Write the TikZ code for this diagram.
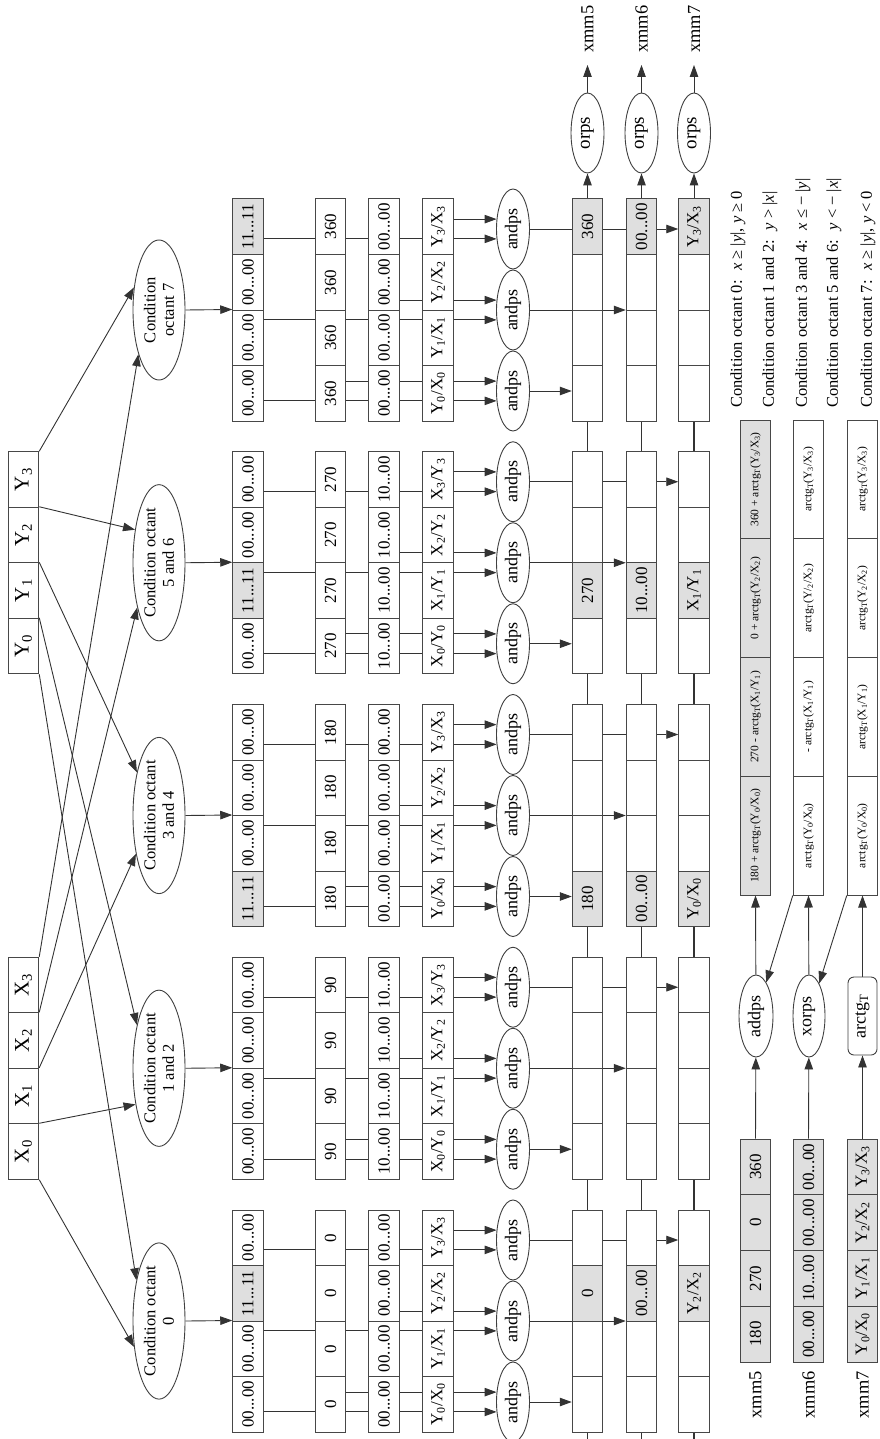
\documentclass[tikz,border=0pt]{standalone}
\usepackage{fontspec}
\setmainfont{Liberation Serif}
\usetikzlibrary{shapes.geometric,arrows.meta,backgrounds}
\newcommand\Zm{00...00}
\newcommand\Tm{10...00}
\newcommand\Om{11...11}
\newcommand\myF{\fontsize{17}{20}\selectfont}
\newcommand\myE{\fontsize{18}{21}\selectfont}
\newcommand\myX{\fontsize{21}{25}\selectfont}
\newcommand\myC{\fontsize{16.5}{18.5}\selectfont}
\newcommand\myO{\fontsize{19}{22}\selectfont}
\newcommand\myM{\fontsize{18.4}{22}\selectfont}
\newcommand\myL{\fontsize{16.5}{19}\selectfont}
\newcommand\myS{\fontsize{11.5}{13.5}\selectfont}
\newcommand\myatg{arctg\textsubscript{T}}
\newcommand\sub[1]{\textsubscript{#1}}
\begin{document}
\begin{tikzpicture}[x=1pt,y=1pt,
 fld/.style={rectangle,draw=black!72,line width=1pt,fill=white,minimum width=55.5pt,minimum height=30.5pt,inner sep=0pt,font=\myF},
 bfld/.style={fld,minimum width=55.75pt,fill=gray!25},
 efld/.style={fld,minimum width=118.75pt,font=\myS},
 ell/.style={ellipse,draw=black!75,line width=0.9pt,fill=white,inner sep=0pt},
 conn/.style={draw=black!80,line width=0.9pt},
 arr/.style={conn,-{Triangle[length=12pt,width=8.5pt]}},
 thk/.style={draw=black!80,line width=1.8pt}]
\begin{scope}[shift={(879,-1439)},rotate=90,transform shape]
\useasboundingbox (0,0) rectangle (1439,879);
% input records
\foreach \k in {0,1,2,3}{
  \node[fld,font=\myX] (xr\k) at ({287.5+55.5*\k},855.5) {X\sub{\k}};
  \node[fld,font=\myX] (yr\k) at ({793+55.5*\k},855.5) {Y\sub{\k}};
}
% condition ellipses
\node[ell,minimum width=140pt,minimum height=52pt,font=\myC,align=center] (cd0) at (118,720) {Condition octant\\0};
\node[ell,minimum width=140pt,minimum height=52pt,font=\myC,align=center] (cd1) at (370.75,720) {Condition octant\\1 and 2};
\node[ell,minimum width=140pt,minimum height=52pt,font=\myC,align=center] (cd2) at (623.5,720) {Condition octant\\3 and 4};
\node[ell,minimum width=140pt,minimum height=52pt,font=\myC,align=center] (cd3) at (876.25,720) {Condition octant\\5 and 6};
\node[ell,minimum width=140pt,minimum height=52pt,font=\myC,align=center] (cd4) at (1129,720) {Condition\\octant 7};
% groups
\foreach \g/\hot/\cv/\mk/\ra/\rb in {0/2/0/\Zm/Y/X,1/9/90/\Tm/X/Y,2/0/180/\Zm/Y/X,3/1/270/\Tm/X/Y,4/3/360/\Zm/Y/X}{
  \pgfmathsetmacro\gS{7+252.75*\g}
  \pgfmathsetmacro\gC{\gS+111}
  \foreach \k in {0,1,2,3}{
    \pgfmathsetmacro\cx{\gS+27.75+55.5*\k}
    \node[fld] (v\g\k) at (\cx,548.5) {\cv};
    \node[fld] (s\g\k) at (\cx,495) {\mk};
    \node[fld] (q\g\k) at (\cx,441) {\ra\sub{\k}/\rb\sub{\k}};
    \ifnum\k=\hot\relax
      \node[fld,fill=gray!25] (m\g\k) at (\cx,631) {\Om};
      \node[fld,fill=gray!25] (ra\g\k) at (\cx,291.5) {\cv};
      \node[fld,fill=gray!25] (rb\g\k) at (\cx,237.5) {\mk};
      \node[fld,fill=gray!25] (rc\g\k) at (\cx,185) {\ra\sub{\k}/\rb\sub{\k}};
    \else
      \node[fld] (m\g\k) at (\cx,631) {\Zm};
      \node[fld] (ra\g\k) at (\cx,291.5) {};
      \node[fld] (rb\g\k) at (\cx,237.5) {};
      \node[fld] (rc\g\k) at (\cx,185) {};
    \fi
  }
  \foreach \j in {1,2,3}{
    \node[ell,minimum width=80pt,minimum height=33pt,font=\myE] (a\g\j) at ({\gC+81*(\j-2)},366) {andps};
  }
}
% outputs
\node[ell,minimum width=80pt,minimum height=33pt,font=\myO] (o1) at (1306,291.5) {orps};
\node[ell,minimum width=80pt,minimum height=33pt,font=\myO] (o2) at (1306,237.5) {orps};
\node[ell,minimum width=80pt,minimum height=33pt,font=\myO] (o3) at (1306,185) {orps};
\node[anchor=west,inner ysep=0pt,inner xsep=12pt,font=\myM] (t5) at (1374,291.5) {xmm5};
\node[anchor=west,inner ysep=0pt,inner xsep=12pt,font=\myM] (t6) at (1374,237.5) {xmm6};
\node[anchor=west,inner ysep=0pt,inner xsep=12pt,font=\myM] (t7) at (1374,185) {xmm7};
\coordinate (w1) at (0,291.5);
\coordinate (w2) at (0,237.5);
\coordinate (w3) at (0,185);
% bottom legend
\node[anchor=east,inner sep=0pt,font=\myM] (l5) at (68,123.5) {xmm5};
\node[anchor=east,inner sep=0pt,font=\myM] (l6) at (68,70.5) {xmm6};
\node[anchor=east,inner sep=0pt,font=\myM] (l7) at (68,16.5) {xmm7};
\foreach \k/\va/\vb in {0/180/\Zm,1/270/\Tm,2/0/\Zm,3/360/\Zm}{
  \node[bfld] (b5\k) at ({104.875+55.75*\k},123.5) {\va};
  \node[bfld] (b6\k) at ({104.875+55.75*\k},70.5) {\vb};
  \node[bfld] (b7\k) at ({104.875+55.75*\k},16.5) {Y\sub{\k}/X\sub{\k}};
}
\node[ell,minimum width=82pt,minimum height=34pt,font=\myE] (ad) at (423,123) {addps};
\node[ell,minimum width=82pt,minimum height=32pt,font=\myE] (xo) at (423,70) {xorps};
\node[rectangle,rounded corners=6pt,draw=black!75,line width=0.9pt,fill=white,minimum width=78pt,minimum height=29pt,inner sep=0pt,font=\myE] (ar) at (423,16.5) {\myatg};
\node[efld,fill=gray!25] (e50) at (603.375,123.5) {180 + \myatg(Y\sub{0}/X\sub{0})};
\node[efld,fill=gray!25] (e51) at (722.125,123.5) {270 - \myatg(X\sub{1}/Y\sub{1})};
\node[efld,fill=gray!25] (e52) at (840.875,123.5) {0 + \myatg(Y\sub{2}/X\sub{2})};
\node[efld,fill=gray!25] (e53) at (959.625,123.5) {360 + \myatg(Y\sub{3}/X\sub{3})};
\node[efld] (e60) at (603.375,70.5) {\myatg(Y\sub{0}/X\sub{0})};
\node[efld] (e61) at (722.125,70.5) {- \myatg(X\sub{1}/Y\sub{1})};
\node[efld] (e62) at (840.875,70.5) {\myatg(Y/\sub{2}/X\sub{2})};
\node[efld] (e63) at (959.625,70.5) {\myatg(Y\sub{3}/X\sub{3})};
\node[efld] (e70) at (603.375,16.5) {\myatg(Y\sub{0}/X\sub{0})};
\node[efld] (e71) at (722.125,16.5) {\myatg(X\sub{1}/Y\sub{1})};
\node[efld] (e72) at (840.875,16.5) {\myatg(Y\sub{2}/X\sub{2})};
\node[efld] (e73) at (959.625,16.5) {\myatg(Y\sub{3}/X\sub{3})};
% condition legend
\node[anchor=west,inner sep=0pt,font=\myL] (k0) at (1031,141) {Condition octant 0: \ \textit{x} ≥ |\textit{y}|, \textit{y} ≥ 0};
\node[anchor=west,inner sep=0pt,font=\myL] (k1) at (1031,109) {Condition octant 1 and 2: \ \textit{y} > |\textit{x}|};
\node[anchor=west,inner sep=0pt,font=\myL] (k2) at (1031,76) {Condition octant 3 and 4: \ \textit{x} ≤ − |\textit{y}|};
\node[anchor=west,inner sep=0pt,font=\myL] (k3) at (1031,45) {Condition octant 5 and 6: \ \textit{y} < − |\textit{x}|};
\node[anchor=west,inner sep=0pt,font=\myL] (k4) at (1031,11) {Condition octant 7: \ \textit{x} ≥ |\textit{y}|, \textit{y} < 0};
% connectors
\begin{scope}[on background layer]
\draw[arr] (xr0.south west) -- (cd0.136);
\draw[arr] (yr0.south west) -- (cd0.29);
\draw[arr] (xr0.south east) -- (cd1.147);
\draw[arr] (yr0.south east) -- (cd1.27);
\draw[arr] (xr1.south east) -- (cd2.149);
\draw[arr] (yr1.south east) -- (cd2.27);
\draw[arr] (xr2.south east) -- (cd3.154);
\draw[arr] (yr2.south east) -- (cd3.36);
\draw[arr] (xr3.south east) -- (cd4.155);
\draw[arr] (yr3.south east) -- (cd4.48);
\foreach \g in {0,1,2,3,4}{
  \draw[arr] (cd\g.south) -- (m\g1.north east);
  \foreach \j/\src/\row in {1/v/ra,2/s/rb,3/q/rc}{
    \draw[arr] (a\g\j.121 |- m\g0.south) -- (a\g\j.121);
    \draw[arr] (a\g\j.59 |- \src\g0.south) -- (a\g\j.59);
    \draw[arr] (a\g\j.south) -- (a\g\j.south |- \row\g0.north);
  }
}
\foreach \g in {0,1,2,3}{
  \pgfmathtruncatemacro\h{\g+1}
  \foreach \row in {ra,rb,rc}{
    \draw[thk] (\row\g3.east) -- (\row\h0.west);
  }
}
\draw[thk] (w1) -- (ra00.west);
\draw[thk] (w2) -- (rb00.west);
\draw[thk] (w3) -- (rc00.west);
\draw[arr] (ra43.east) -- (o1);
\draw[arr] (rb43.east) -- (o2);
\draw[arr] (rc43.east) -- (o3);
\draw[arr] (o1) -- (t5);
\draw[arr] (o2) -- (t6);
\draw[arr] (o3) -- (t7);
\draw[arr] (b53.east) -- (ad);
\draw[arr] (b63.east) -- (xo);
\draw[arr] (b73.east) -- (ar);
\draw[arr] (ad) -- (e50.west);
\draw[arr] (xo) -- (e60.west);
\draw[arr] (ar) -- (e70.west);
\draw[arr] (e60.north west) -- (ad);
\draw[arr] (e70.north west) -- (xo);
\end{scope}
\end{scope}
\end{tikzpicture}
\end{document}
